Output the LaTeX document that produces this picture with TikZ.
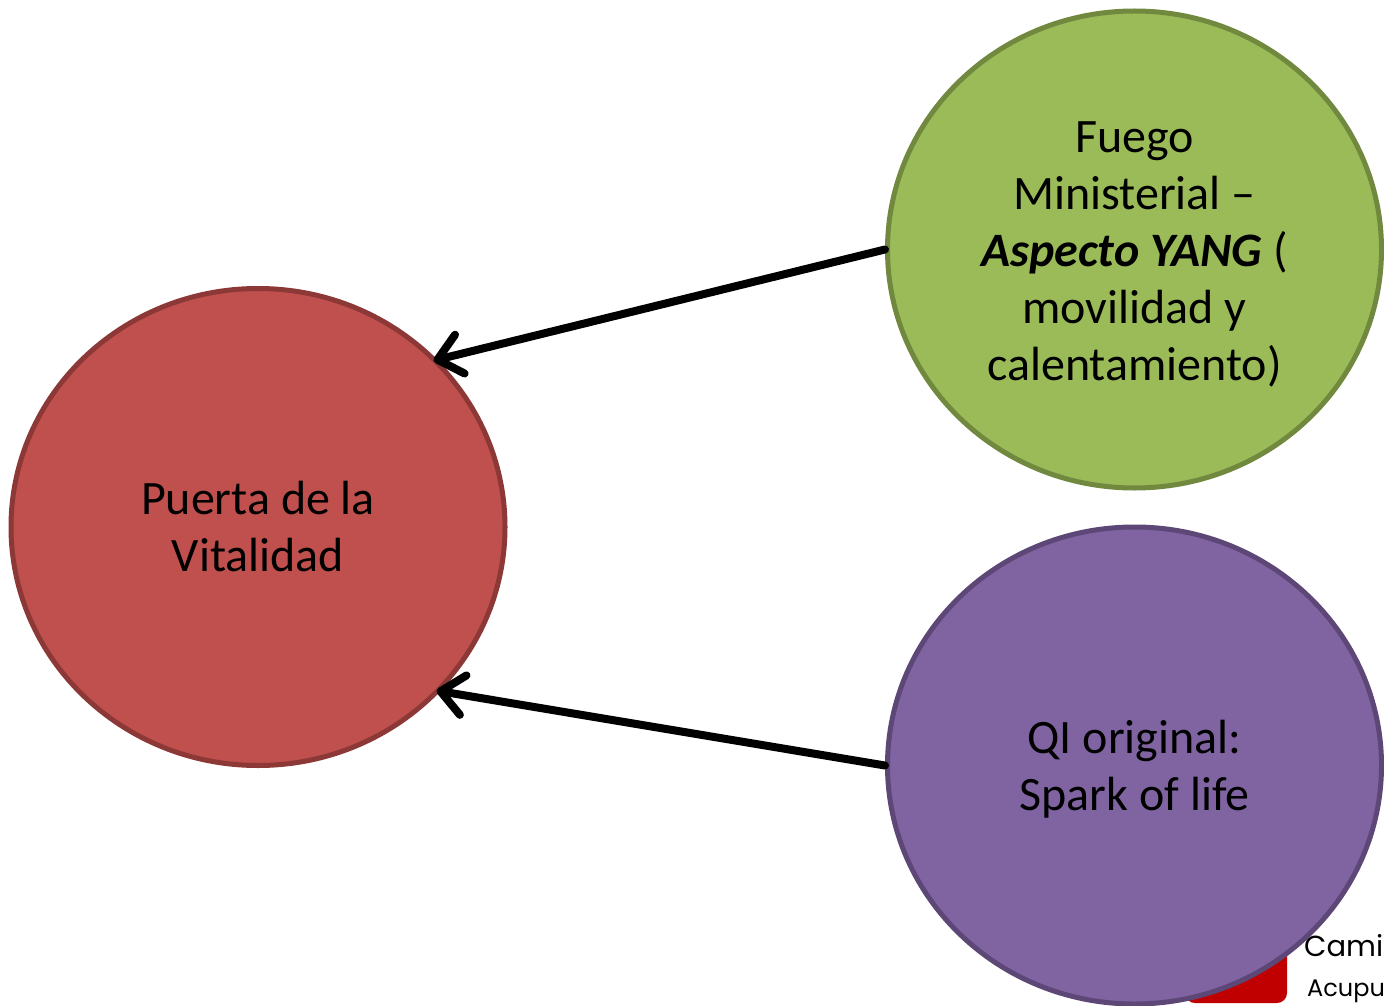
\documentclass[tikz,border=0pt]{standalone}
\usepackage{fontspec}
\setmainfont{Carlito}
\newfontfamily\logofont{Poppins}
\usetikzlibrary{arrows.meta,shapes.geometric}
\definecolor{redfill}{HTML}{C0504D}
\definecolor{redline}{HTML}{8C3836}
\definecolor{greenfill}{HTML}{9BBB59}
\definecolor{greenline}{HTML}{71893F}
\definecolor{purplefill}{HTML}{8064A2}
\definecolor{purpleline}{HTML}{5C4776}
\definecolor{logored}{HTML}{C00000}
\tikzset{
  x=1pt,y=-1pt,
  disc/.style={ellipse,inner sep=0pt,minimum width=494pt,minimum height=477pt,line width=5pt,align=center,font=\fontsize{48}{57}\selectfont,text=black},
  link/.style={line width=8pt,draw=black,line cap=round,shorten >=-4pt,-{Straight Barb[length=23pt,width=40pt,line width=8pt,round]}},
  logotext/.style={anchor=west,inner sep=0pt,text=black}
}
\begin{document}
\begin{tikzpicture}
\useasboundingbox (0,0) rectangle (1384,1006);
\begin{scope}
\clip (0,0) rectangle (1384,1006);
\fill[logored,rounded corners=10pt] (1185,930) rectangle (1287,1003);
\node[logotext,font=\logofont\fontsize{29}{36}\selectfont] (cami) at (1304,946) {Cami};
\node[logotext,font=\logofont\fontsize{24}{30}\selectfont] (acu) at (1307,991) {Acupu};
\node[disc,fill=redfill,draw=redline] (red) at (258,527) {Puerta de la\\Vitalidad};
\node[disc,fill=greenfill,draw=greenline] (green) at (1134.5,249.5) {\rule{0pt}{40pt}Fuego\\Ministerial --\\\textbf{\textit{Aspecto YANG}} (\\movilidad y\\calentamiento)};
\node[disc,fill=purplefill,draw=purpleline] (purple) at (1134.5,765.5) {\rule{0pt}{40pt}QI original:\\Spark of life};
\end{scope}
\draw[link] (green.west) -- (red.43.8);
\draw[link] (purple.west) -- (red.-42.6);
\end{tikzpicture}
\end{document}
